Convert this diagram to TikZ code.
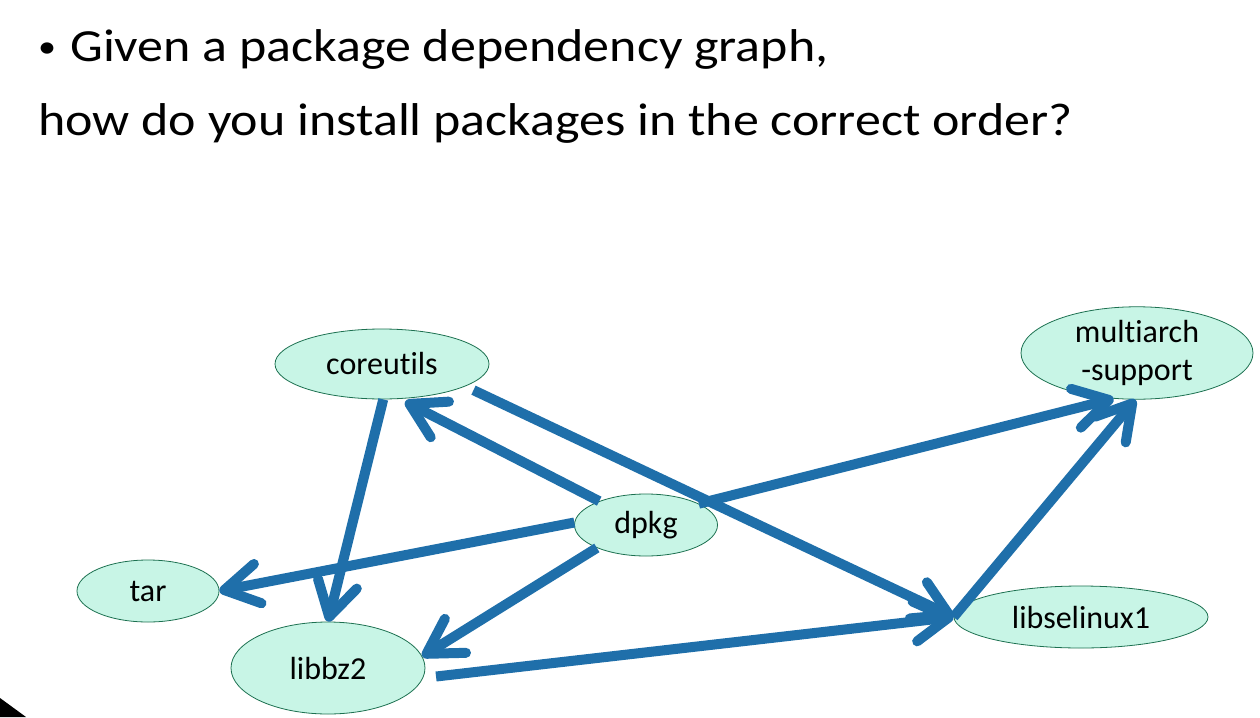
\documentclass[tikz,border=0pt]{standalone}
\usepackage{fontspec}
\setmainfont{Carlito}[Ligatures=NoCommon]
\newfontfamily\headfont{Carlito}[Ligatures=NoCommon, FakeStretch=1.13]
\usepackage{color}
\usetikzlibrary{arrows.meta,shapes.geometric}
\definecolor{arrowblue}{RGB}{31,111,170}
\definecolor{pkgfill}{RGB}{200,245,230}
\definecolor{pkgdraw}{RGB}{28,112,80}
\tikzset{
  pkgnode/.style={
    ellipse,
    fill=pkgfill,
    draw=pkgdraw, thick,
    inner sep=0pt,
    align=center,
    font=\fontsize{32}{38}\selectfont},
  dep/.style={
    draw=arrowblue, line width=10pt,
    -{Straight Barb[length=34pt, width=40pt, round]}},
  heading/.style={
    anchor=base west, inner sep=0pt,
    font=\headfont\fontsize{46}{55}\selectfont},
}

\begin{document}
\begin{tikzpicture}
  [x=1pt, y=-1pt]
     \useasboundingbox (0,0) rectangle (1260,717);
     % text of the slide
     \node[heading] (GivenLine) at (38,62) {\raisebox{4pt}{\fontsize{32}{32}\selectfont\textbullet}\hspace{14pt}Given a package dependency graph,};
     \node[heading] (HowLine) at (38,135) {how do you install packages in the correct order?};

     % packages
     \node[pkgnode, minimum width=214pt, minimum height=70pt] (Coreutils) at (382,364) {coreutils};
     \node[pkgnode, minimum width=143pt, minimum height=62pt] (Dpkg) at (646,525) {dpkg};
     \node[pkgnode, minimum width=142pt, minimum height=62pt] (Tar) at (148,591) {tar};
     \node[pkgnode, minimum width=194pt, minimum height=92pt] (Libbz2) at (328,668) {libbz2};
     \node[pkgnode, minimum width=254pt, minimum height=62pt] (Libselinux) at (1081,617) {libselinux1};
     \node[pkgnode, minimum width=232pt, minimum height=92pt] (Multiarch) at (1137,353) {multiarch\\-support};

     % dependencies
     \draw[dep, shorten >=6pt] (Dpkg.153) -- (Coreutils.-63);
     \draw[dep] (Coreutils.-88) -- (Libbz2.north);
     \draw[dep] (Dpkg.178) -- (Tar.east);
     \draw[dep] (Dpkg.205) -- (Libbz2.7);
     \draw[dep, shorten <=9pt] (Coreutils.-15) -- (Libselinux.west);
     \draw[dep, shorten <=13pt] (Libbz2.-6) -- (Libselinux.west);
     \draw[dep] (Dpkg.22) -- (Multiarch.-117);
     \draw[dep] (Libselinux.west) -- (Multiarch.-92);

     \fill[black] (0,698) -- (26,717) -- (0,717) -- cycle;
\end{tikzpicture}
\end{document}
